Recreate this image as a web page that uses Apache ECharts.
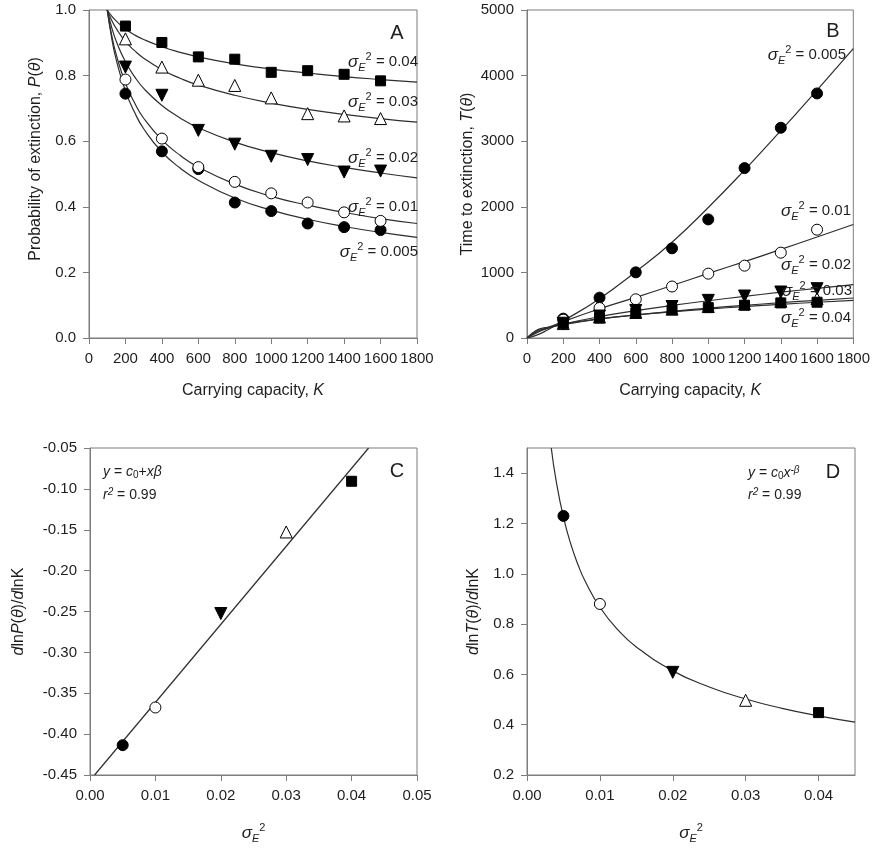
<!DOCTYPE html>
<html>
<head>
<meta charset="utf-8">
<script src="https://cdn.jsdelivr.net/npm/echarts@6/dist/echarts.min.js"></script>
<style>
  html, body { margin: 0; padding: 0; background: #fff; }
  #chart { width: 873px; height: 850px; }
</style>
</head>
<body>
<div id="chart"></div>
<script>
// ---- data ----
const kPoints = [200, 400, 600, 800, 1000, 1200, 1400, 1600];

// panel A: probability of extinction
const pA_005 = [0.745, 0.569, 0.515, 0.413, 0.387, 0.349, 0.338, 0.329];
const pA_01 = [0.788, 0.608, 0.521, 0.476, 0.441, 0.413, 0.383, 0.357];
const pA_02 = [0.826, 0.740, 0.633, 0.591, 0.554, 0.544, 0.506, 0.509];
const pA_03 = [0.912, 0.826, 0.786, 0.770, 0.732, 0.684, 0.677, 0.669];
const pA_04 = [0.951, 0.901, 0.857, 0.850, 0.810, 0.815, 0.804, 0.784];
const kCurveA = [100, 125, 150, 200, 250, 300, 400, 500, 600, 800, 1000, 1200, 1400, 1600, 1800];
const fitA_005 = [1.0, 0.913, 0.847, 0.753, 0.688, 0.638, 0.567, 0.518, 0.481, 0.427, 0.390, 0.362, 0.340, 0.322, 0.307];
const fitA_01 = [1.0, 0.922, 0.863, 0.777, 0.717, 0.670, 0.604, 0.557, 0.521, 0.469, 0.432, 0.405, 0.383, 0.364, 0.349];
const fitA_02 = [1.0, 0.946, 0.904, 0.842, 0.797, 0.761, 0.709, 0.671, 0.641, 0.597, 0.565, 0.540, 0.520, 0.503, 0.488];
const fitA_03 = [1.0, 0.968, 0.943, 0.904, 0.876, 0.853, 0.818, 0.792, 0.771, 0.740, 0.716, 0.697, 0.682, 0.669, 0.658];
const fitA_04 = [1.0, 0.981, 0.966, 0.942, 0.924, 0.910, 0.888, 0.871, 0.857, 0.836, 0.820, 0.808, 0.797, 0.788, 0.780];

// panel B: time to extinction
const tB_005 = [295, 615, 1001, 1367, 1808, 2590, 3205, 3728];
const tB_01 = [280, 457, 590, 785, 981, 1103, 1301, 1651];
const tB_02 = [225, 335, 420, 480, 574, 640, 701, 752];
const tB_03 = [220, 320, 390, 440, 480, 520, 560, 600];
const tB_04 = [219, 305, 378, 430, 463, 500, 535, 545];
const kCurveB = [0, 50, 100, 200, 400, 600, 800, 1000, 1200, 1400, 1600, 1800];
const fitB_005 = [0, 40, 102, 260, 600, 1010, 1460, 1990, 2560, 3160, 3780, 4410];
const fitB_01 = [0, 74, 136, 250, 445, 620, 800, 985, 1165, 1350, 1540, 1730];
const fitB_02 = [0, 91, 139, 213, 325, 416, 496, 568, 635, 698, 757, 813];
const fitB_03 = [0, 102, 144, 203, 288, 352, 407, 455, 498, 538, 575, 610];
const fitB_04 = [0, 115, 157, 214, 292, 351, 399, 441, 479, 513, 545, 575];

// panels C and D: slopes against environmental variance
const sigma2 = [0.005, 0.01, 0.02, 0.03, 0.04];
const slopeP = [-0.4135, -0.3674, -0.2525, -0.1527, -0.0907];
const slopeT = [1.230, 0.880, 0.608, 0.497, 0.448];
const lineC_x = [0.0007, 0.0426];
const lineC_y = [-0.45, -0.05];
const curveD_x = [0.00333, 0.004, 0.005, 0.006, 0.007, 0.008, 0.01, 0.0125, 0.015, 0.02, 0.025, 0.03, 0.035, 0.04, 0.045];
const curveD_y = [1.5, 1.369, 1.225, 1.119, 1.036, 0.969, 0.867, 0.776, 0.709, 0.614, 0.550, 0.502, 0.465, 0.435, 0.410];

// ---- styling ----
const FONT = "'Liberation Sans', Arial, sans-serif";
const AXIS_COLOR = "#7d7d7d";
const TEXT_COLOR = "#1e1e1e";
const CURVE_COLOR = "#2e2e2e";

const zip = (xs, ys) => xs.map((x, i) => [x, ys[i]]);

const markers = {
  c005: { symbol: "circle", symbolSize: 11, symbolRotate: 0, fill: "#000" },
  c01: { symbol: "circle", symbolSize: 11, symbolRotate: 0, fill: "#fff" },
  c02: { symbol: "triangle", symbolSize: 12, symbolRotate: 180, fill: "#000" },
  c03: { symbol: "triangle", symbolSize: 12, symbolRotate: 0, fill: "#fff" },
  c04: { symbol: "rect", symbolSize: 10, symbolRotate: 0, fill: "#000" },
};

const scatter = (idx, m, data) => ({
  type: "scatter",
  xAxisIndex: idx,
  yAxisIndex: idx,
  data: data,
  symbol: m.symbol,
  symbolSize: m.symbolSize,
  symbolRotate: m.symbolRotate,
  itemStyle: { color: m.fill, borderColor: "#000", borderWidth: 1, opacity: 1 },
  emphasis: { disabled: true },
  z: 5,
});

const curve = (idx, data) => ({
  type: "line",
  xAxisIndex: idx,
  yAxisIndex: idx,
  data: data,
  showSymbol: false,
  smooth: 0.5,
  lineStyle: { color: CURVE_COLOR, width: 1.2 },
  emphasis: { disabled: true },
  z: 3,
});

const nameRich = {
  r: { fontSize: 16, fontFamily: FONT, color: TEXT_COLOR },
  i: { fontSize: 16, fontFamily: FONT, color: TEXT_COLOR, fontStyle: "italic" },
};

const sigmaRich = {
  s: { fontSize: 17, fontFamily: FONT, color: TEXT_COLOR, fontStyle: "italic", lineHeight: 24, verticalAlign: "middle" },
  sub: { fontSize: 11, fontFamily: FONT, color: TEXT_COLOR, fontStyle: "italic", lineHeight: 24, verticalAlign: "bottom", padding: [0, 0, 1, 0] },
  sup: { fontSize: 11, fontFamily: FONT, color: TEXT_COLOR, lineHeight: 24, verticalAlign: "top", padding: [1, 0, 0, 0] },
  t: { fontSize: 15, fontFamily: FONT, color: TEXT_COLOR, lineHeight: 24, verticalAlign: "middle" },
};

function valueAxis(idx, min, max, interval, digits, extra) {
  return Object.assign({
    type: "value",
    gridIndex: idx,
    min: min,
    max: max,
    interval: interval,
    axisLine: { show: true, onZero: false, lineStyle: { color: AXIS_COLOR, width: 1 } },
    axisTick: { show: true, inside: false, length: 6, lineStyle: { color: AXIS_COLOR } },
    axisLabel: {
      color: TEXT_COLOR,
      fontSize: 15,
      fontFamily: FONT,
      margin: 13,
      formatter: (v) => v.toFixed(digits),
    },
    splitLine: { show: false },
    nameLocation: "middle",
    nameTextStyle: { fontSize: 16, fontFamily: FONT, color: TEXT_COLOR, rich: nameRich },
  }, extra);
}

const sigmaName = "{s|σ}{sub|E}{sup|2}";
const sigmaLabel = (v) => "{s|σ}{sub|E}{sup|2}{t| = " + v + "}";

function annotation(x, y, text, align) {
  return {
    type: "text",
    x: x,
    y: y,
    z: 10,
    style: {
      text: text,
      rich: sigmaRich,
      align: align,
      verticalAlign: "middle",
      font: "15px " + FONT,
      fill: TEXT_COLOR,
    },
  };
}

function panelLetter(x, y, letter) {
  return {
    type: "text",
    x: x,
    y: y,
    z: 10,
    style: { text: letter, font: "20px " + FONT, fill: TEXT_COLOR, align: "center", verticalAlign: "middle" },
  };
}

const fitRich = {
  t: { fontSize: 14, fontFamily: FONT, color: TEXT_COLOR, lineHeight: 20, verticalAlign: "middle" },
  i: { fontSize: 14, fontFamily: FONT, color: TEXT_COLOR, fontStyle: "italic", lineHeight: 20, verticalAlign: "middle" },
  sub: { fontSize: 10, fontFamily: FONT, color: TEXT_COLOR, lineHeight: 20, verticalAlign: "bottom", padding: [0, 0, 2, 0] },
  sup: { fontSize: 10, fontFamily: FONT, color: TEXT_COLOR, fontStyle: "italic", lineHeight: 20, verticalAlign: "top", padding: [2, 0, 0, 0] },
};

function fitText(x, y, text) {
  return {
    type: "text",
    x: x,
    y: y,
    z: 10,
    style: { text: text, rich: fitRich, align: "left", verticalAlign: "middle", font: "14px " + FONT, fill: TEXT_COLOR },
  };
}

const chart = echarts.init(document.getElementById("chart"), null, { renderer: "canvas" });

const gridBox = { show: true, borderColor: AXIS_COLOR, borderWidth: 1, backgroundColor: "transparent" };

const option = {
  backgroundColor: "#fff",
  animation: false,
  grid: [
    Object.assign({ left: 89, top: 10, width: 328, height: 328 }, gridBox),
    Object.assign({ left: 527, top: 10, width: 327, height: 328 }, gridBox),
    Object.assign({ left: 90, top: 448, width: 327, height: 327 }, gridBox),
    Object.assign({ left: 527, top: 448, width: 328, height: 327 }, gridBox),
  ],
  xAxis: [
    valueAxis(0, 0, 1800, 200, 0, { name: "Carrying capacity, {i|K}", nameGap: 45 }),
    valueAxis(1, 0, 1800, 200, 0, { name: "Carrying capacity, {i|K}", nameGap: 45 }),
    valueAxis(2, 0, 0.05, 0.01, 2, { name: sigmaName, nameGap: 46, nameTextStyle: { rich: sigmaRich } }),
    valueAxis(3, 0, 0.045, 0.01, 2, { name: sigmaName, nameGap: 46, nameTextStyle: { rich: sigmaRich } }),
  ],
  yAxis: [
    valueAxis(0, 0, 1, 0.2, 1, {
      name: "Probability of extinction, {i|P}({i|θ})", nameGap: 45,
      nameTextStyle: { fontSize: 16, fontFamily: FONT, color: TEXT_COLOR, rich: nameRich, padding: [0, 0, 0, 30] },
    }),
    valueAxis(1, 0, 5000, 1000, 0, { name: "Time to extinction, {i|T}({i|θ})", nameGap: 51 }),
    valueAxis(2, -0.45, -0.05, 0.05, 2, { name: "{i|d}ln{i|P}({i|θ})/{i|d}ln{r|K}", nameGap: 63 }),
    valueAxis(3, 0.2, 1.5, 0.2, 1, { name: "{i|d}ln{i|T}({i|θ})/{i|d}ln{r|K}", nameGap: 45 }),
  ],
  series: [
    // panel A
    curve(0, zip(kCurveA, fitA_005)),
    curve(0, zip(kCurveA, fitA_01)),
    curve(0, zip(kCurveA, fitA_02)),
    curve(0, zip(kCurveA, fitA_03)),
    curve(0, zip(kCurveA, fitA_04)),
    scatter(0, markers.c005, zip(kPoints, pA_005)),
    scatter(0, markers.c01, zip(kPoints, pA_01)),
    scatter(0, markers.c02, zip(kPoints, pA_02)),
    scatter(0, markers.c03, zip(kPoints, pA_03)),
    scatter(0, markers.c04, zip(kPoints, pA_04)),
    // panel B
    curve(1, zip(kCurveB, fitB_005)),
    curve(1, zip(kCurveB, fitB_01)),
    curve(1, zip(kCurveB, fitB_02)),
    curve(1, zip(kCurveB, fitB_03)),
    curve(1, zip(kCurveB, fitB_04)),
    scatter(1, markers.c005, zip(kPoints, tB_005)),
    scatter(1, markers.c01, zip(kPoints, tB_01)),
    scatter(1, markers.c03, zip(kPoints, tB_03)),
    scatter(1, markers.c02, zip(kPoints, tB_02)),
    scatter(1, markers.c04, zip(kPoints, tB_04)),
    // panel C
    Object.assign(curve(2, zip(lineC_x, lineC_y)), { smooth: false }),
    scatter(2, markers.c005, [[sigma2[0], slopeP[0]]]),
    scatter(2, markers.c01, [[sigma2[1], slopeP[1]]]),
    scatter(2, markers.c02, [[sigma2[2], slopeP[2]]]),
    scatter(2, markers.c03, [[sigma2[3], slopeP[3]]]),
    scatter(2, markers.c04, [[sigma2[4], slopeP[4]]]),
    // panel D
    curve(3, zip(curveD_x, curveD_y)),
    scatter(3, markers.c005, [[sigma2[0], slopeT[0]]]),
    scatter(3, markers.c01, [[sigma2[1], slopeT[1]]]),
    scatter(3, markers.c02, [[sigma2[2], slopeT[2]]]),
    scatter(3, markers.c03, [[sigma2[3], slopeT[3]]]),
    scatter(3, markers.c04, [[sigma2[4], slopeT[4]]]),
  ],
  graphic: [
    panelLetter(397, 33, "A"),
    annotation(418, 62, sigmaLabel("0.04"), "right"),
    annotation(418, 102, sigmaLabel("0.03"), "right"),
    annotation(418, 158, sigmaLabel("0.02"), "right"),
    annotation(418, 207, sigmaLabel("0.01"), "right"),
    annotation(418, 252, sigmaLabel("0.005"), "right"),
    panelLetter(833, 31, "B"),
    annotation(846, 55, sigmaLabel("0.005"), "right"),
    annotation(851, 211, sigmaLabel("0.01"), "right"),
    annotation(851, 265, sigmaLabel("0.02"), "right"),
    annotation(852, 291, sigmaLabel("0.03"), "right"),
    annotation(851, 318, sigmaLabel("0.04"), "right"),
    panelLetter(397, 471, "C"),
    fitText(103, 472, "{i|y}{t| = }{i|c}{sub|0}{t|+}{i|xβ}"),
    fitText(103, 495, "{i|r}{sup|2}{t| = 0.99}"),
    panelLetter(833, 472, "D"),
    fitText(748, 473, "{i|y}{t| = }{i|c}{sub|0}{i|x}{sup|-β}"),
    fitText(748, 495, "{i|r}{sup|2}{t| = 0.99}"),
  ],
};

// hide the labels at the non-round upper ends of panel D's axes
option.xAxis[3].axisLabel.showMaxLabel = false;
option.yAxis[3].axisLabel.showMaxLabel = false;

chart.setOption(option);
</script>
</body>
</html>
